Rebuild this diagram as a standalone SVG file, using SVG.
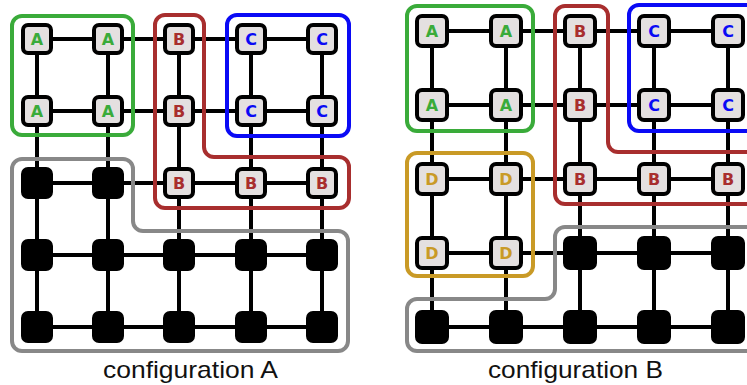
<svg xmlns="http://www.w3.org/2000/svg" width="747" height="385" viewBox="0 0 747 385">
  <style>
    .wire { stroke: #000; stroke-width: 4; fill: none; }
    .grp { fill: none; stroke-width: 4; }
    .g-a { stroke: #3aab3a; }
    .g-b { stroke: #a82e2e; }
    .g-c { stroke: #0a0af5; }
    .g-d { stroke: #c99a26; }
    .g-x { stroke: #888; }
    .core { fill: #e4e0e0; stroke: #000; stroke-width: 4; }
    .free { fill: #000; stroke: #000; stroke-width: 4; }
    .lbl { font-family: "DejaVu Sans", sans-serif; font-weight: bold; font-size: 16px; text-anchor: middle; }
    .ta { fill: #3aab3a; }
    .tb { fill: #a82e2e; }
    .tc { fill: #0a0af5; }
    .td { fill: #c99a26; }
    .cap { font-family: "Liberation Sans", Arial, sans-serif; font-size: 24px; fill: #111; text-anchor: middle; }
  </style>
  <defs>
    <rect id="nL" x="-14" y="-14" width="28" height="28" rx="5"/>
    <rect id="nR" x="-15" y="-15" width="30" height="30" rx="5"/>
  </defs>

  <!-- ========== configuration A ========== -->
  <g id="connectors-a" class="wire">
    <path d="M37,39 H322 M37,111 H322 M37,183 H322 M37,255 H322 M37,327 H322"/>
    <path d="M37,39 V327 M108,39 V327 M179,39 V327 M251,39 V327 M322,39 V327"/>
  </g>

  <g id="groups-a">
    <rect class="grp g-a" x="12" y="16" width="121" height="119" rx="10"/>
    <rect class="grp g-c" x="227" y="15" width="122" height="121" rx="10"/>
    <path class="grp g-b" d="M165,15 H194 A10,10 0 0 1 204,25 V147 A10,10 0 0 0 214,157 H339 A10,10 0 0 1 349,167 V198 A10,10 0 0 1 339,208 H165 A10,10 0 0 1 155,198 V25 A10,10 0 0 1 165,15 Z"/>
    <path class="grp g-x" d="M22,159 H123 A10,10 0 0 1 133,169 V221 A10,10 0 0 0 143,231 H338 A10,10 0 0 1 348,241 V341 A10,10 0 0 1 338,351 H22 A10,10 0 0 1 12,341 V169 A10,10 0 0 1 22,159 Z"/>
  </g>

  <g id="a-r1c1"><use href="#nL" class="core" x="37" y="39"/><text class="lbl ta" x="37" y="45">A</text></g>
  <g id="a-r1c2"><use href="#nL" class="core" x="108" y="39"/><text class="lbl ta" x="108" y="45">A</text></g>
  <g id="a-r1c3"><use href="#nL" class="core" x="179" y="39"/><text class="lbl tb" x="179" y="45">B</text></g>
  <g id="a-r1c4"><use href="#nL" class="core" x="251" y="39"/><text class="lbl tc" x="251" y="45">C</text></g>
  <g id="a-r1c5"><use href="#nL" class="core" x="322" y="39"/><text class="lbl tc" x="322" y="45">C</text></g>

  <g id="a-r2c1"><use href="#nL" class="core" x="37" y="111"/><text class="lbl ta" x="37" y="117">A</text></g>
  <g id="a-r2c2"><use href="#nL" class="core" x="108" y="111"/><text class="lbl ta" x="108" y="117">A</text></g>
  <g id="a-r2c3"><use href="#nL" class="core" x="179" y="111"/><text class="lbl tb" x="179" y="117">B</text></g>
  <g id="a-r2c4"><use href="#nL" class="core" x="251" y="111"/><text class="lbl tc" x="251" y="117">C</text></g>
  <g id="a-r2c5"><use href="#nL" class="core" x="322" y="111"/><text class="lbl tc" x="322" y="117">C</text></g>

  <g id="a-r3c1"><use href="#nL" class="free" x="37" y="183"/></g>
  <g id="a-r3c2"><use href="#nL" class="free" x="108" y="183"/></g>
  <g id="a-r3c3"><use href="#nL" class="core" x="179" y="183"/><text class="lbl tb" x="179" y="189">B</text></g>
  <g id="a-r3c4"><use href="#nL" class="core" x="251" y="183"/><text class="lbl tb" x="251" y="189">B</text></g>
  <g id="a-r3c5"><use href="#nL" class="core" x="322" y="183"/><text class="lbl tb" x="322" y="189">B</text></g>

  <g id="a-r4c1"><use href="#nL" class="free" x="37" y="255"/></g>
  <g id="a-r4c2"><use href="#nL" class="free" x="108" y="255"/></g>
  <g id="a-r4c3"><use href="#nL" class="free" x="179" y="255"/></g>
  <g id="a-r4c4"><use href="#nL" class="free" x="251" y="255"/></g>
  <g id="a-r4c5"><use href="#nL" class="free" x="322" y="255"/></g>

  <g id="a-r5c1"><use href="#nL" class="free" x="37" y="327"/></g>
  <g id="a-r5c2"><use href="#nL" class="free" x="108" y="327"/></g>
  <g id="a-r5c3"><use href="#nL" class="free" x="179" y="327"/></g>
  <g id="a-r5c4"><use href="#nL" class="free" x="251" y="327"/></g>
  <g id="a-r5c5"><use href="#nL" class="free" x="322" y="327"/></g>

  <text class="cap" x="190.5" y="378" textLength="175" lengthAdjust="spacingAndGlyphs">configuration A</text>

  <!-- ========== configuration B ========== -->
  <g id="connectors-b" class="wire">
    <path d="M432,31 H728 M432,105 H728 M432,179 H728 M432,253 H728 M432,327 H728"/>
    <path d="M432,31 V327 M506,31 V327 M580,31 V327 M654,31 V327 M728,31 V327"/>
  </g>

  <g id="groups-b">
    <rect class="grp g-a" x="407" y="6" width="126" height="125" rx="10"/>
    <rect class="grp g-d" x="407" y="153" width="126" height="123" rx="10"/>
    <rect class="grp g-c" x="629" y="5" width="150" height="126" rx="10"/>
    <path class="grp g-b" d="M565,6 H598 A10,10 0 0 1 608,16 V142 A10,10 0 0 0 618,152 H780 V204 H565 A10,10 0 0 1 555,194 V16 A10,10 0 0 1 565,6 Z"/>
    <path class="grp g-x" d="M417,299 H545 A10,10 0 0 0 555,289 V237 A10,10 0 0 1 565,227 H780 V351 H417 A10,10 0 0 1 407,341 V309 A10,10 0 0 1 417,299 Z"/>
  </g>

  <g id="b-r1c1"><use href="#nR" class="core" x="432" y="31"/><text class="lbl ta" x="432" y="37">A</text></g>
  <g id="b-r1c2"><use href="#nR" class="core" x="506" y="31"/><text class="lbl ta" x="506" y="37">A</text></g>
  <g id="b-r1c3"><use href="#nR" class="core" x="580" y="31"/><text class="lbl tb" x="580" y="37">B</text></g>
  <g id="b-r1c4"><use href="#nR" class="core" x="654" y="31"/><text class="lbl tc" x="654" y="37">C</text></g>
  <g id="b-r1c5"><use href="#nR" class="core" x="728" y="31"/><text class="lbl tc" x="728" y="37">C</text></g>

  <g id="b-r2c1"><use href="#nR" class="core" x="432" y="105"/><text class="lbl ta" x="432" y="111">A</text></g>
  <g id="b-r2c2"><use href="#nR" class="core" x="506" y="105"/><text class="lbl ta" x="506" y="111">A</text></g>
  <g id="b-r2c3"><use href="#nR" class="core" x="580" y="105"/><text class="lbl tb" x="580" y="111">B</text></g>
  <g id="b-r2c4"><use href="#nR" class="core" x="654" y="105"/><text class="lbl tc" x="654" y="111">C</text></g>
  <g id="b-r2c5"><use href="#nR" class="core" x="728" y="105"/><text class="lbl tc" x="728" y="111">C</text></g>

  <g id="b-r3c1"><use href="#nR" class="core" x="432" y="179"/><text class="lbl td" x="432" y="185">D</text></g>
  <g id="b-r3c2"><use href="#nR" class="core" x="506" y="179"/><text class="lbl td" x="506" y="185">D</text></g>
  <g id="b-r3c3"><use href="#nR" class="core" x="580" y="179"/><text class="lbl tb" x="580" y="185">B</text></g>
  <g id="b-r3c4"><use href="#nR" class="core" x="654" y="179"/><text class="lbl tb" x="654" y="185">B</text></g>
  <g id="b-r3c5"><use href="#nR" class="core" x="728" y="179"/><text class="lbl tb" x="728" y="185">B</text></g>

  <g id="b-r4c1"><use href="#nR" class="core" x="432" y="253"/><text class="lbl td" x="432" y="259">D</text></g>
  <g id="b-r4c2"><use href="#nR" class="core" x="506" y="253"/><text class="lbl td" x="506" y="259">D</text></g>
  <g id="b-r4c3"><use href="#nR" class="free" x="580" y="253"/></g>
  <g id="b-r4c4"><use href="#nR" class="free" x="654" y="253"/></g>
  <g id="b-r4c5"><use href="#nR" class="free" x="728" y="253"/></g>

  <g id="b-r5c1"><use href="#nR" class="free" x="432" y="327"/></g>
  <g id="b-r5c2"><use href="#nR" class="free" x="506" y="327"/></g>
  <g id="b-r5c3"><use href="#nR" class="free" x="580" y="327"/></g>
  <g id="b-r5c4"><use href="#nR" class="free" x="654" y="327"/></g>
  <g id="b-r5c5"><use href="#nR" class="free" x="728" y="327"/></g>

  <text class="cap" x="575.5" y="378" textLength="175" lengthAdjust="spacingAndGlyphs">configuration B</text>
</svg>
